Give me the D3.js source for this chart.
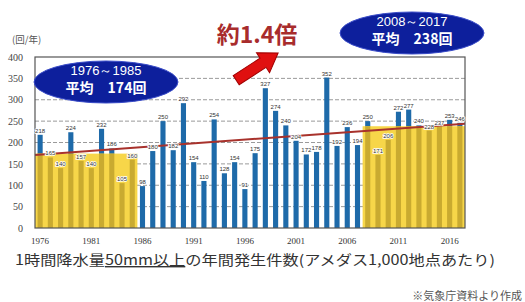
<!DOCTYPE html>
<html>
<head>
<meta charset="utf-8">
<script src="https://cdn.jsdelivr.net/npm/d3@7"></script>
<style>
  body { margin: 0; background: #fff; }
  svg { display: block; }
</style>
</head>
<body>
<div id="chart"></div>
<script>
// annual count of 50mm/h rainfall events (per 1,000 AMeDAS stations)
const years = [1976, 1977, 1978, 1979, 1980, 1981, 1982, 1983, 1984, 1985,
  1986, 1987, 1988, 1989, 1990, 1991, 1992, 1993, 1994, 1995,
  1996, 1997, 1998, 1999, 2000, 2001, 2002, 2003, 2004, 2005,
  2006, 2007, 2008, 2009, 2010, 2011, 2012, 2013, 2014, 2015, 2016, 2017];
const counts = [218, 165, 140, 224, 157, 140, 232, 186, 105, 160,
  98, 180, 250, 182, 292, 154, 110, 254, 128, 154,
  91, 175, 327, 274, 240, 204, 172, 178, 352, 192,
  236, 194, 250, 171, 206, 272, 277, 240, 228, 237, 253, 246];

const yTicks = [0, 50, 100, 150, 200, 250, 300, 350, 400];
const xTickYears = [1976, 1981, 1986, 1991, 1996, 2001, 2006, 2011, 2016];

// the two 10-year periods and their averages
const periodStart = [1976, 2008];
const periodEnd = [1985, 2017];
const periodAvg = [174, 238];
const periodText = ["1976～1985", "2008～2017"];

// trend line end points
const trendYears = [1976, 2017];
const trendValues = [171, 244];

const W = 525, H = 302;
const svg = d3.select("#chart").append("svg")
  .attr("width", W).attr("height", H)
  .style("font-family", "'Noto Sans CJK JP', 'Noto Sans', sans-serif");

const x = d3.scaleBand().domain(years).range([35, 465]).paddingInner(0.5).paddingOuter(0.25);
const y = d3.scaleLinear().domain([0, 400]).range([228, 57]);
const bw = x.bandwidth();
const step = x.step();

// grid
svg.append("g").selectAll("line")
  .data(yTicks.filter(d => d > 0 && d < 400))
  .enter().append("line")
  .attr("x1", 35).attr("x2", 465)
  .attr("y1", d => y(d)).attr("y2", d => y(d))
  .attr("stroke", "#9a9a9a")
  .attr("stroke-width", 1)
  .attr("stroke-dasharray", "4,2");

const data = years.map((yr, i) => ({ year: yr, v: counts[i] }));

// blue bars
svg.append("g").selectAll("rect")
  .data(data)
  .enter().append("rect")
  .attr("x", d => x(d.year))
  .attr("width", bw)
  .attr("y", d => y(d.v))
  .attr("height", d => y(0) - y(d.v))
  .attr("fill", "#1e6aa9");

// yellow period blocks
periodStart.forEach((s, k) => {
  const e = periodEnd[k], avg = periodAvg[k];
  const x0 = k == 0 ? 35 : x(s) - (step - bw) / 2;
  const x1 = k == 0 ? x(e) + bw + (step - bw) / 2 : 465;
  svg.append("rect")
    .attr("x", x0).attr("width", x1 - x0)
    .attr("y", y(avg)).attr("height", y(0) - y(avg))
    .attr("fill", "#f7d649");
  svg.append("g").selectAll("rect")
    .data(data.filter(d => d.year >= s && d.year <= e))
    .enter().append("rect")
    .attr("x", d => x(d.year))
    .attr("width", bw)
    .attr("y", d => y(Math.min(d.v, avg)))
    .attr("height", d => y(0) - y(Math.min(d.v, avg)))
    .attr("fill", "#c9aa30");
});

// trend line
svg.append("line")
  .attr("x1", x(trendYears[0]) + bw / 2 - step / 2)
  .attr("x2", x(trendYears[1]) + bw / 2 + step / 2)
  .attr("y1", y(trendValues[0]))
  .attr("y2", y(trendValues[1]))
  .attr("stroke", "#a8322c")
  .attr("stroke-width", 2);

// frame
svg.append("rect")
  .attr("x", 35).attr("y", y(400))
  .attr("width", 430).attr("height", y(0) - y(400))
  .attr("fill", "none")
  .attr("stroke", "#555")
  .attr("stroke-width", 1.2);

// value labels
svg.append("g").selectAll("text")
  .data(data)
  .enter().append("text")
  .attr("x", d => x(d.year) + bw / 2)
  .attr("y", d => y(d.v) - 2)
  .attr("text-anchor", "middle")
  .attr("font-family", "'Liberation Sans', sans-serif")
  .attr("font-size", 6)
  .attr("fill", "#333")
  .attr("stroke", "#fff")
  .attr("stroke-width", 1.5)
  .attr("paint-order", "stroke")
  .text(d => d.v);

// y axis
const yAxis = svg.append("g")
  .attr("transform", "translate(35,0)")
  .call(d3.axisLeft(y).tickValues(yTicks).tickSize(0).tickPadding(12));
yAxis.select(".domain").remove();
yAxis.selectAll("text")
  .attr("font-family", "'Liberation Serif', serif")
  .attr("font-size", 10)
  .attr("fill", "#444");

// x axis
const xAxis = svg.append("g")
  .attr("transform", "translate(0,236)")
  .call(d3.axisBottom(x).tickValues(xTickYears).tickSize(0).tickPadding(2));
xAxis.select(".domain").remove();
xAxis.selectAll("text")
  .attr("font-family", "'Liberation Serif', serif")
  .attr("font-size", 9)
  .attr("fill", "#333");

// unit
svg.append("text")
  .attr("x", 12).attr("y", 43)
  .attr("font-size", 9.5)
  .attr("fill", "#555")
  .text("(回/年)");

// period ellipses
const ellipses = [{ cx: 106, cy: 82 }, { cx: 412, cy: 33 }];
ellipses.forEach((p, k) => {
  svg.append("ellipse")
    .attr("cx", p.cx).attr("cy", p.cy)
    .attr("rx", 72).attr("ry", 21)
    .attr("fill", "#0d1f9c")
    .attr("stroke", "#3a4cc8")
    .attr("stroke-width", 1);
  svg.append("text")
    .attr("x", p.cx).attr("y", p.cy - 7)
    .attr("text-anchor", "middle")
    .attr("font-family", "'Liberation Sans', sans-serif")
    .attr("font-size", 13)
    .attr("fill", "#fff")
    .text(periodText[k]);
  svg.append("text")
    .attr("x", p.cx).attr("y", p.cy + 11)
    .attr("text-anchor", "middle")
    .attr("font-size", 14)
    .attr("font-weight", "bold")
    .attr("fill", "#fff")
    .text("平均　" + periodAvg[k] + "回");
});

// ratio label
svg.append("text")
  .attr("x", 257).attr("y", 43)
  .attr("text-anchor", "middle")
  .attr("font-size", 23)
  .attr("font-weight", "bold")
  .attr("fill", "#a82c2c")
  .text("約1.4倍");

// arrow
svg.append("path")
  .attr("transform", "translate(258,66) rotate(-33)")
  .attr("d", "M-26,-5.5 L6,-5.5 L6,-12 L24,0 L6,12 L6,5.5 L-26,5.5 Z")
  .attr("fill", "#e01010")
  .attr("stroke", "#a00000")
  .attr("stroke-width", 1);

// caption
const cap = svg.append("text")
  .attr("x", 15).attr("y", 265)
  .attr("font-size", 14)
  .attr("fill", "#333")
  .attr("textLength", 480)
  .attr("lengthAdjust", "spacingAndGlyphs");
cap.append("tspan").text("1時間降水量");
cap.append("tspan").attr("text-decoration", "underline").text("50mm以上");
cap.append("tspan").text("の年間発生件数(アメダス1,000地点あたり)");

svg.append("text")
  .attr("x", 522).attr("y", 300)
  .attr("text-anchor", "end")
  .attr("font-size", 11)
  .attr("fill", "#555")
  .text("※気象庁資料より作成");
</script>
</body>
</html>
